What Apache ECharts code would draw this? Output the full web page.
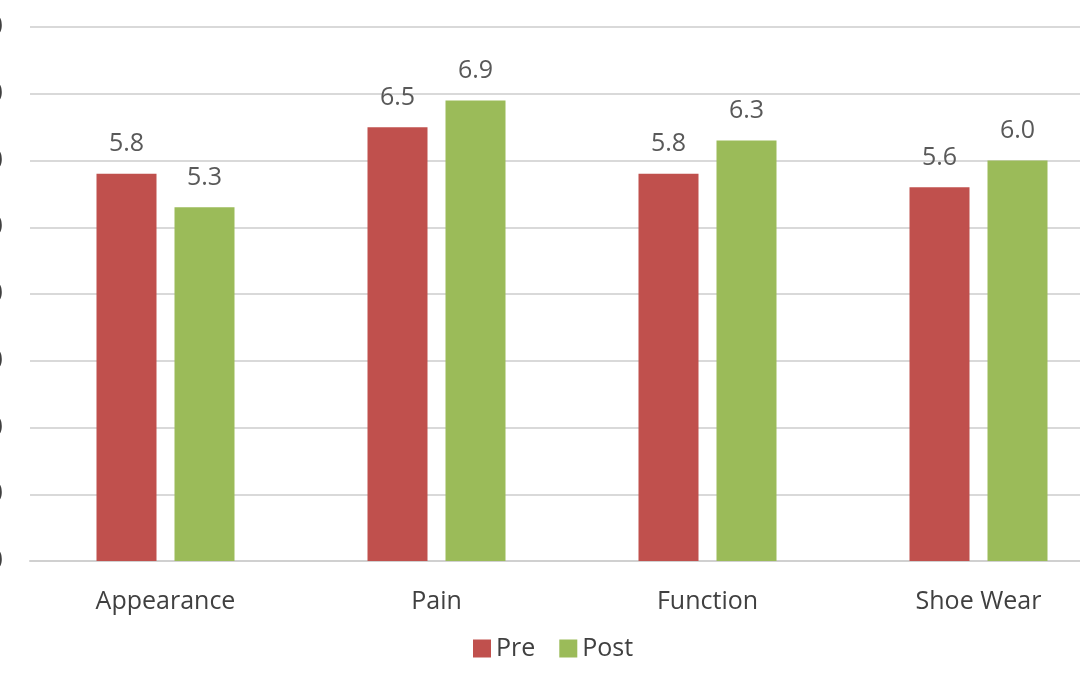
<!DOCTYPE html>
<html><head><meta charset="utf-8">
<script src="https://cdn.jsdelivr.net/npm/echarts@6/dist/echarts.min.js"></script>
<style>html,body{margin:0;padding:0;background:#fff}#c{width:1080px;height:675px}</style>
</head><body><div id="c"></div>
<script>
const categories = ['Appearance', 'Pain', 'Function', 'Shoe Wear'];
const preValues = [5.8, 6.5, 5.8, 5.6];
const postValues = [5.3, 6.9, 6.3, 6.0];
const yTicks = {min: 0, max: 8, interval: 1};

const chart = echarts.init(document.getElementById('c'));
const labelStyle = {show: true, position: 'top', distance: 17, color: '#595959', fontSize: 25, fontFamily: 'Open Sans', formatter: p => p.value.toFixed(1)};
chart.setOption({
  animation: false,
  grid: {left: 30, top: 27, bottom: 114, width: 1084, containLabel: false, outerBoundsMode: 'none'},
  legend: {
    data: ['Pre', 'Post'], left: 468, top: 631, itemWidth: 18, itemHeight: 18, itemGap: 24,
    icon: 'rect', textStyle: {color: '#404040', fontSize: 25, fontFamily: 'Open Sans'}
  },
  xAxis: {
    type: 'category', data: categories,
    axisTick: {show: false},
    axisLine: {lineStyle: {color: '#d0d0d0', width: 2}},
    axisLabel: {color: '#404040', fontSize: 25, fontFamily: 'Open Sans', margin: 28}
  },
  yAxis: {
    type: 'value', min: yTicks.min, max: yTicks.max, interval: yTicks.interval,
    axisLine: {show: false}, axisTick: {show: false},
    axisLabel: {color: '#404040', fontSize: 25, fontFamily: 'Open Sans', margin: 27, formatter: v => v.toFixed(1)},
    splitLine: {lineStyle: {color: '#d9d9d9', width: 2}}
  },
  series: [
    {name: 'Pre', type: 'bar', data: preValues, barWidth: 60, barGap: '30%', itemStyle: {color: '#C0504D'}, label: labelStyle},
    {name: 'Post', type: 'bar', data: postValues, barWidth: 60, itemStyle: {color: '#9BBB59'}, label: labelStyle}
  ]
});
</script></body></html>
